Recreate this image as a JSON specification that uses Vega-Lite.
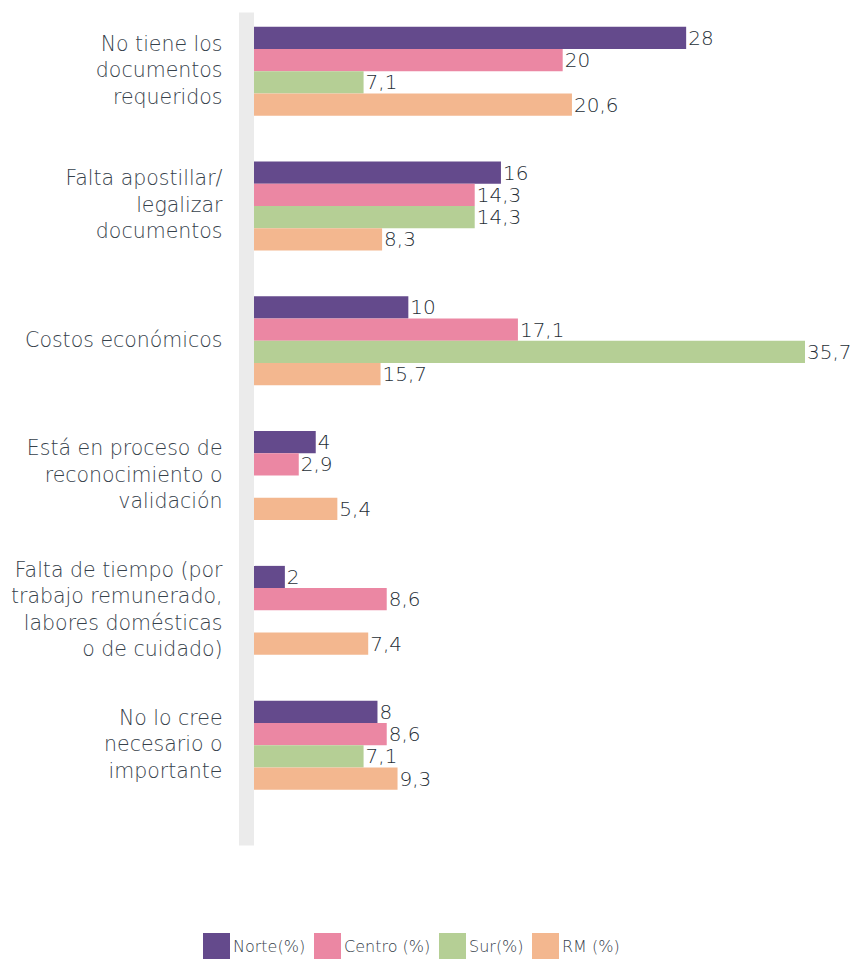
{
  "$schema": "https://vega.github.io/schema/vega-lite/v6.json",
  "width": 551,
  "height": 833,
  "autosize": {"type": "none"},
  "padding": {"left": 254, "top": 12, "right": 46, "bottom": 114},
  "background": "white",
  "config": {
    "view": {"stroke": null},
    "font": "DejaVu Sans"
  },
  "data": {
    "values": [
      {"cat": "No tiene los\u00a0|documentos\u00a0|requeridos", "serie": "Norte(%)", "valor": 28, "texto": "28"},
      {"cat": "No tiene los\u00a0|documentos\u00a0|requeridos", "serie": "Centro (%)", "valor": 20, "texto": "20"},
      {"cat": "No tiene los\u00a0|documentos\u00a0|requeridos", "serie": "Sur(%)", "valor": 7.1, "texto": "7,1"},
      {"cat": "No tiene los\u00a0|documentos\u00a0|requeridos", "serie": "RM (%)", "valor": 20.6, "texto": "20,6"},
      {"cat": "Falta apostillar/|legalizar\u00a0|documentos\u00a0", "serie": "Norte(%)", "valor": 16, "texto": "16"},
      {"cat": "Falta apostillar/|legalizar\u00a0|documentos\u00a0", "serie": "Centro (%)", "valor": 14.3, "texto": "14,3"},
      {"cat": "Falta apostillar/|legalizar\u00a0|documentos\u00a0", "serie": "Sur(%)", "valor": 14.3, "texto": "14,3"},
      {"cat": "Falta apostillar/|legalizar\u00a0|documentos\u00a0", "serie": "RM (%)", "valor": 8.3, "texto": "8,3"},
      {"cat": "Costos económicos", "serie": "Norte(%)", "valor": 10, "texto": "10"},
      {"cat": "Costos económicos", "serie": "Centro (%)", "valor": 17.1, "texto": "17,1"},
      {"cat": "Costos económicos", "serie": "Sur(%)", "valor": 35.7, "texto": "35,7"},
      {"cat": "Costos económicos", "serie": "RM (%)", "valor": 8.2, "texto": "15,7"},
      {"cat": "Está en proceso de\u00a0|reconocimiento o\u00a0|validación\u00a0", "serie": "Norte(%)", "valor": 4, "texto": "4"},
      {"cat": "Está en proceso de\u00a0|reconocimiento o\u00a0|validación\u00a0", "serie": "Centro (%)", "valor": 2.9, "texto": "2,9"},
      {"cat": "Está en proceso de\u00a0|reconocimiento o\u00a0|validación\u00a0", "serie": "RM (%)", "valor": 5.4, "texto": "5,4"},
      {"cat": "Falta de tiempo (por|trabajo remunerado,|labores domésticas|o de cuidado)", "serie": "Norte(%)", "valor": 2, "texto": "2"},
      {"cat": "Falta de tiempo (por|trabajo remunerado,|labores domésticas|o de cuidado)", "serie": "Centro (%)", "valor": 8.6, "texto": "8,6"},
      {"cat": "Falta de tiempo (por|trabajo remunerado,|labores domésticas|o de cuidado)", "serie": "RM (%)", "valor": 7.4, "texto": "7,4"},
      {"cat": "No lo cree\u00a0|necesario o\u00a0|importante\u00a0", "serie": "Norte(%)", "valor": 8, "texto": "8"},
      {"cat": "No lo cree\u00a0|necesario o\u00a0|importante\u00a0", "serie": "Centro (%)", "valor": 8.6, "texto": "8,6"},
      {"cat": "No lo cree\u00a0|necesario o\u00a0|importante\u00a0", "serie": "Sur(%)", "valor": 7.1, "texto": "7,1"},
      {"cat": "No lo cree\u00a0|necesario o\u00a0|importante\u00a0", "serie": "RM (%)", "valor": 9.3, "texto": "9,3"}
    ]
  },
  "encoding": {
    "y": {
      "field": "cat",
      "type": "nominal",
      "sort": null,
      "scale": {"paddingInner": 0.34, "paddingOuter": 0.26, "align": 0.21},
      "axis": {
        "title": null,
        "ticks": false,
        "tickSize": 0,
        "domainColor": "#ebebeb",
        "domainWidth": 15,
        "offset": 8,
        "labelPadding": 24,
        "labelFontSize": 20.5,
        "labelColor": "#36414b",
        "labelLineHeight": 26.5,
        "labelExpr": "split(datum.label, '|')",
        "labelOffset": {"expr": "-(length(split(datum.label, '|')) - 1) * 13.25"},
        "labelLimit": 0,
        "labelAlign": "right",
        "labelBaseline": "middle",
        "labelFont": "DejaVu Sans",
        "labelFontWeight": 200
      }
    },
    "yOffset": {
      "field": "serie",
      "type": "nominal",
      "sort": ["Norte(%)", "Centro (%)", "Sur(%)", "RM (%)"],
      "scale": {"domain": ["Norte(%)", "Centro (%)", "Sur(%)", "RM (%)"]}
    },
    "x": {
      "field": "valor",
      "type": "quantitative",
      "scale": {"domain": [0, 35.7], "nice": false},
      "axis": null
    }
  },
  "layer": [
    {
      "mark": {"type": "bar"},
      "encoding": {
        "color": {
          "field": "serie",
          "type": "nominal",
          "sort": ["Norte(%)", "Centro (%)", "Sur(%)", "RM (%)"],
          "scale": {
            "domain": ["Norte(%)", "Centro (%)", "Sur(%)", "RM (%)"],
            "range": ["#644a8c", "#eb87a3", "#b5cf95", "#f3b78f"]
          },
          "legend": {
            "orient": "none",
            "legendX": -51,
            "legendY": 921,
            "direction": "horizontal",
            "title": null,
            "symbolType": "square",
            "symbolSize": 729,
            "symbolStrokeWidth": 0,
            "symbolOpacity": 1,
            "labelFontSize": 16,
            "labelColor": "#36414b",
            "labelFont": "DejaVu Sans",
            "labelFontWeight": 200,
            "labelOffset": 3,
            "columnPadding": 8,
            "labelExpr": "datum.label == 'RM (%)' ? '\u00a0\u00a0 RM (%)' : datum.label"
          }
        }
      }
    },
    {
      "mark": {"type": "text", "align": "left", "baseline": "middle", "dx": 2, "dy": 1, "fontSize": 20, "font": "DejaVu Sans", "fontWeight": 200, "color": "#262e36"},
      "encoding": {
        "text": {"field": "texto", "type": "nominal"}
      }
    }
  ]
}
